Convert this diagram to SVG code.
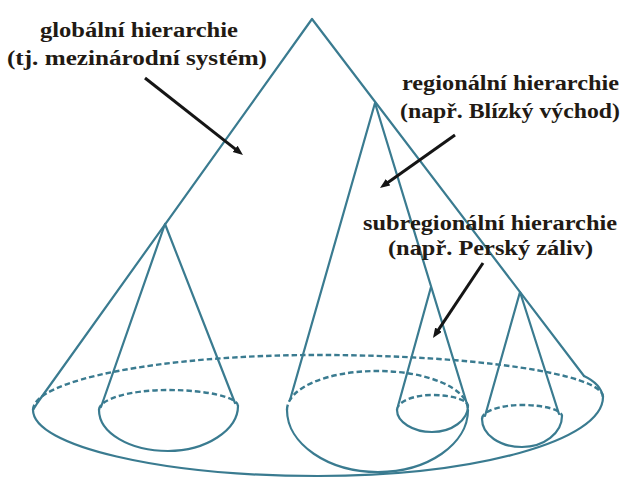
<svg xmlns="http://www.w3.org/2000/svg" width="624" height="480" viewBox="0 0 624 480">
<defs>
<style>
.ln{fill:none;stroke:#3a7b90;stroke-width:2.2;stroke-linejoin:round;stroke-linecap:round}
.ds{fill:none;stroke:#3a7b90;stroke-width:2.4;stroke-dasharray:5.5 3}
.lbl{font-weight:bold;font-size:20px;fill:#221a14}
.arr{stroke:#151515;stroke-width:3;fill:none}
</style>
<marker id="ah" markerUnits="userSpaceOnUse" markerWidth="12" markerHeight="10" refX="2" refY="4" orient="auto">
<path d="M0,0 L10,4 L0,8 z" fill="#151515"/>
</marker>
</defs>
<rect width="624" height="480" fill="#ffffff"/>

<g id="global-cone">
<path class="ds" d="M33,410 C33,380 161,355 318,355 C475,355 603,374 603,397"/>
<path class="ln" d="M584,376 Q601,384 603,397 C603,441 475,476 318,476 C161,476 33,446 33,410 L38,402"/>
<path class="ln" d="M38,402 L312,19 L584,376"/>
</g>

<g id="left-cone">
<path class="ds" d="M99,410 C99,399 130,390 168,390 C206,390 238,397 238,406"/>
<path class="ln" d="M238,406 C238,430 206,451 168,451 C130,451 99,433 99,410"/>
<path class="ln" d="M101,407 L165,224 L235,403"/>
</g>

<g id="regional-cone">
<path class="ds" d="M287,410 C287,388 327,371 377,371 C427,371 468,388 468,410"/>
<path class="ln" d="M468,410 C468,444 428,472 378,472 C328,472 287,444 287,410"/>
<path class="ln" d="M290,400 L375,103 L467,404"/>
</g>

<g id="subregional-cone">
<path class="ds" d="M397,410 C397,402 413,395 432,395 C452,395 468,400 468,406"/>
<path class="ln" d="M468,406 C468,420 452,432 432,432 C413,432 397,422 397,410"/>
<path class="ln" d="M431,287 L398,406"/>
</g>

<g id="right-cone">
<path class="ds" d="M482,419 C482,411 500,405 522,405 C544,405 562,410 562,416"/>
<path class="ln" d="M562,416 C562,433 544,447 522,447 C500,447 482,435 482,419"/>
<path class="ln" d="M485,416 L520,292 L559,414"/>
</g>

<g id="label-global">
<text class="lbl" font-family="Liberation Serif, serif" x="40" y="37" textLength="198" lengthAdjust="spacingAndGlyphs">globální hierarchie</text>
<text class="lbl" font-family="Liberation Serif, serif" x="7" y="65" textLength="260" lengthAdjust="spacingAndGlyphs">(tj. mezinárodní systém)</text>
</g>

<g id="label-regional">
<text class="lbl" font-family="Liberation Serif, serif" x="402" y="90" textLength="217" lengthAdjust="spacingAndGlyphs">regionální hierarchie</text>
<text class="lbl" font-family="Liberation Serif, serif" x="400" y="118" textLength="220" lengthAdjust="spacingAndGlyphs">(např. Blízký východ)</text>
</g>

<g id="label-subregional">
<text class="lbl" font-family="Liberation Serif, serif" x="363" y="230" textLength="254" lengthAdjust="spacingAndGlyphs">subregionální hierarchie</text>
<text class="lbl" font-family="Liberation Serif, serif" x="388" y="255" textLength="205" lengthAdjust="spacingAndGlyphs">(např. Perský záliv)</text>
</g>

<g id="connectors">
<line class="arr" x1="145" y1="78" x2="236.7" y2="150.1" marker-end="url(#ah)"/>
<line class="arr" x1="455" y1="135" x2="386.5" y2="183.4" marker-end="url(#ah)"/>
<line class="arr" x1="483" y1="263" x2="437.4" y2="331.3" marker-end="url(#ah)"/>
</g>
</svg>
